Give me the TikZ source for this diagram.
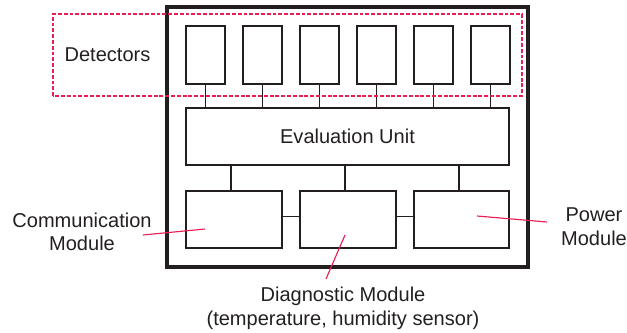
\documentclass[tikz,border=0pt]{standalone}
\usepackage{fontspec}
\setmainfont{Liberation Sans}
\definecolor{pointred}{RGB}{232,30,84}
\definecolor{linegray}{RGB}{35,31,32}

\begin{document}
\begin{tikzpicture}[
		box/.style={draw=linegray, line width=1.6pt, inner sep=0pt},
		detbox/.style={box, minimum width=0.78cm, minimum height=1.16cm},
		modbox/.style={box, minimum height=1.14cm},
		link/.style={draw=linegray, line width=0.95pt},
		pointer/.style={draw=pointred, line width=0.65pt},
		lbl/.style={font=\fontsize{11.4}{13.4}\selectfont, text=linegray, align=center, inner sep=0pt}
	]
		
		\useasboundingbox (0, 0) rectangle (12.54, 6.64);
		
		% housing
		\draw [linegray, line width=1.9pt] (3.34, 1.3) rectangle (10.56, 6.5);
		
		% detector row
		\node [detbox] (det1) at (4.11, 5.54) {};
		\node [detbox] (det2) at (5.25, 5.54) {};
		\node [detbox] (det3) at (6.39, 5.54) {};
		\node [detbox] (det4) at (7.53, 5.54) {};
		\node [detbox] (det5) at (8.67, 5.54) {};
		\node [detbox] (det6) at (9.81, 5.54) {};
		
		\node [modbox, minimum width=6.46cm] (eval) at (6.95, 3.91) {};
		\node [lbl] at (eval.center) {Evaluation Unit};
		
		% modules
		\node [modbox, minimum width=1.92cm] (comm) at (4.68, 2.25) {};
		\node [modbox, minimum width=1.92cm] (diag) at (6.96, 2.25) {};
		\node [modbox, minimum width=1.90cm] (power) at (9.23, 2.25) {};
		
		\draw [link] (det1.south) -- (det1.south |- eval.north);
		\draw [link] (det2.south) -- (det2.south |- eval.north);
		\draw [link] (det3.south) -- (det3.south |- eval.north);
		\draw [link] (det4.south) -- (det4.south |- eval.north);
		\draw [link] (det5.south) -- (det5.south |- eval.north);
		\draw [link] (det6.south) -- (det6.south |- eval.north);
		
		\draw [link] ([xshift=-0.06cm]comm.north |- eval.south) -- ([xshift=-0.06cm]comm.north);
		\draw [link] ([xshift=-0.06cm]diag.north |- eval.south) -- ([xshift=-0.06cm]diag.north);
		\draw [link] ([xshift=-0.05cm]power.north |- eval.south) -- ([xshift=-0.05cm]power.north);
		
		\draw [link] ([yshift=0.06cm]comm.east) -- ([yshift=0.06cm]diag.west);
		\draw [link] ([yshift=0.06cm]diag.east) -- ([yshift=0.06cm]power.west);
		
		% detector group
		\draw [pointred, line width=1.2pt, dash pattern=on 2.2pt off 1.1pt] (1.06, 4.72) rectangle (10.44, 6.36);
		\node [lbl] (detlbl) at (2.15, 5.55) {Detectors};
		
		% labels with pointers
		\node [lbl] (commlbl) at (1.64, 2.0) {Communication\\Module};
		\node [lbl] (diaglbl) at (6.86, 0.47) {Diagnostic Module\\(temperature, humidity sensor)};
		\node [lbl] (powerlbl) at (11.88, 2.11) {Power\\Module};
		
		\coordinate (commtip) at (4.1, 2.06);
		\coordinate (diagtip) at (6.9, 1.94);
		\coordinate (powertip) at (9.54, 2.32);
		
		\draw [pointer] (2.86, 1.94) -- (commtip);
		\draw [pointer] (6.52, 1.06) -- (diagtip);
		\draw [pointer] (10.94, 2.2) -- (powertip);
		
		\end{tikzpicture}
\end{document}
